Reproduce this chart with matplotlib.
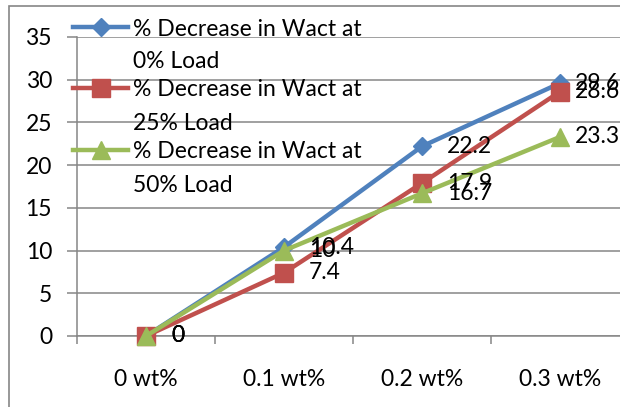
import matplotlib
matplotlib.use('Agg')
import matplotlib.pyplot as plt
from matplotlib.lines import Line2D
from matplotlib.patches import Rectangle

# Datos
categories = ['0 wt%', '0.1 wt%', '0.2 wt%', '0.3 wt%']
load_0 = [0, 10.4, 22.2, 29.6]
load_25 = [0, 7.4, 17.9, 28.6]
load_50 = [0, 10.0, 16.7, 23.3]
series_names = ['% Decrease in Wact at\n0% Load',
                '% Decrease in Wact at\n25% Load',
                '% Decrease in Wact at\n50% Load']
yticks = [0, 5, 10, 15, 20, 25, 30, 35]

W, H = 620, 407
plt.rcParams['font.family'] = ['Lato', 'DejaVu Sans']
FS = 16.5
GRID = '#868686'

fig = plt.figure(figsize=(W / 100, H / 100), dpi=100)


def px(x, y):
    # convierte píxeles (origen arriba-izquierda) a fracción de figura
    return x / W, 1 - y / H


# Marco exterior del gráfico (recortado a la derecha y abajo)
fig.add_artist(Rectangle(px(9, 440), 700 / W, 434 / H, transform=fig.transFigure,
                         fill=False, edgecolor=GRID, linewidth=1.2))

ax = fig.add_axes([77 / W, (H - 336) / H, 552 / W, 299 / H])
ax.set_facecolor('none')
ax.set_xlim(-0.5, len(categories) - 0.5)
ax.set_ylim(0, 35)

styles = [
    dict(color='#4F81BD', marker='D', ms=9),
    dict(color='#C0504D', marker='s', ms=13),
    dict(color='#9BBB59', marker='^', ms=13),
]
all_series = [load_0, load_25, load_50]
x = list(range(len(categories)))

for vals, st in zip(all_series, styles):
    ax.plot(x, vals, color=st['color'], lw=3.2, marker=st['marker'], ms=st['ms'],
            mec=st['color'], solid_joinstyle='round', clip_on=False, zorder=3)

# Etiquetas de datos; las del último punto quedan más pegadas (borde del gráfico)
for vals in all_series:
    for xi, v in zip(x, vals):
        dx = 11 if xi == x[-1] else 18
        ax.annotate(f'{v:g}', (xi, v), xytext=(dx, 0), textcoords='offset points',
                    va='center', ha='left', fontsize=FS, color='black',
                    annotation_clip=False, zorder=4)

# Ejes y rejilla estilo Excel
ax.set_yticks(yticks)
ax.yaxis.grid(True, color=GRID, lw=1.1)
ax.set_axisbelow(True)
ax.tick_params(axis='y', length=7, width=1.1, color=GRID, pad=11, labelsize=FS)
ax.set_xticks(x)
ax.set_xticklabels(categories)
ax.set_xticks([i - 0.5 for i in range(len(categories) + 1)], minor=True)
ax.tick_params(axis='x', which='major', length=0, pad=24, labelsize=FS)
ax.tick_params(axis='x', which='minor', length=6, width=1.1, color=GRID)
for side in ['top', 'right']:
    ax.spines[side].set_visible(False)
for side in ['left', 'bottom']:
    ax.spines[side].set_color(GRID)
    ax.spines[side].set_linewidth(1.1)

# Leyenda manual (el marcador alineado con la primera línea del texto)
legend_rows = [27, 88, 150]
for row, name, st in zip(legend_rows, series_names, styles):
    fx0, fy = px(73, row)
    fx1, _ = px(128, row)
    fig.add_artist(Line2D([fx0, fx1], [fy, fy], transform=fig.transFigure,
                          color=st['color'], lw=3.2))
    fig.add_artist(Line2D([(fx0 + fx1) / 2], [fy], transform=fig.transFigure,
                          color=st['color'], marker=st['marker'], ms=st['ms'],
                          mec=st['color']))
    for k, line in enumerate(name.split('\n')):
        tx, ty = px(133, row + 33 * k)
        fig.text(tx, ty, line, fontsize=FS, va='center_baseline', ha='left')

fig.savefig('out.png', dpi=100)
